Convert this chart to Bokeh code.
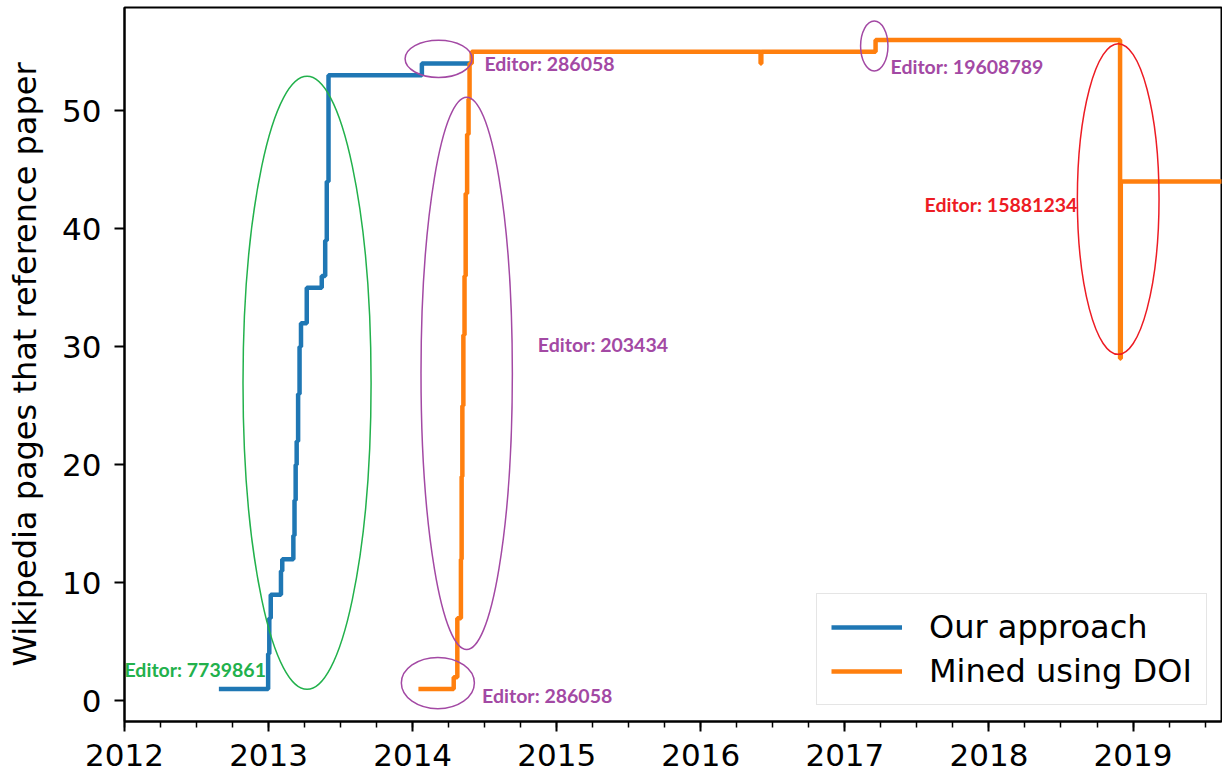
from bokeh.plotting import figure
from bokeh.models import (Range1d, FixedTicker, Legend, LegendItem, ColumnDataSource)
from bokeh.core.properties import value
from bokeh.embed import file_html
from bokeh.resources import INLINE

# ---- data (decimal years, number of pages) ----
our_x = [2012.655, 2012.997, 2013.005, 2013.015, 2013.086, 2013.095, 2013.172, 2013.180,
         2013.188, 2013.195, 2013.205, 2013.215, 2013.225, 2013.265, 2013.369, 2013.393,
         2013.404, 2013.416, 2014.064, 2014.400]
our_y = [1, 4, 7, 9, 11, 12, 14, 17, 20, 22, 26, 30, 32, 35, 36, 39, 44, 53, 54, 54]

doi_x = [2014.040, 2014.285, 2014.310, 2014.335, 2014.340, 2014.345, 2014.352, 2014.360,
         2014.368, 2014.378, 2014.388, 2014.395, 2014.410, 2016.415, 2016.420, 2017.213,
         2018.910, 2018.915, 2019.620]
doi_y = [1, 2, 7, 12, 19, 25, 31, 36, 43, 48, 51, 54, 55, 54, 55, 56, 29, 44, 44]

year_ticks = [2012, 2013, 2014, 2015, 2016, 2017, 2018, 2019]
year_labels = ["2012", "2013", "2014", "2015", "2016", "2017", "2018", "2019"]
quarter_ticks = [2012 + q / 4 for q in range(0, 31)]
y_ticks = [0, 10, 20, 30, 40, 50]

# annotation ellipses (center x, center y, width, height, colour)
ell_x = [2013.267, 2014.180, 2014.375, 2014.175, 2017.204, 2018.897]
ell_y = [26.95, 54.4, 27.75, 1.51, 55.49, 42.52]
ell_w = [0.889, 0.465, 0.634, 0.507, 0.19, 0.567]
ell_h = [51.97, 3.15, 46.8, 4.34, 4.25, 26.36]
ell_c = ["#22b14c", "#a349a4", "#a349a4", "#a349a4", "#a349a4", "#ed1c24"]

# annotation texts
ann_text = ["Editor: 7739861", "Editor: 286058", "Editor: 203434", "Editor: 286058",
            "Editor: 19608789", "Editor: 15881234"]
ann_x = [2012.0, 2014.498, 2014.869, 2014.482, 2017.317, 2017.553]
ann_y = [2.62, 54.0, 30.2, 0.49, 53.74, 42.03]
ann_c = ["#22b14c", "#a349a4", "#a349a4", "#a349a4", "#a349a4", "#ed1c24"]

BLUE = "#1f77b4"
ORANGE = "#ff7f0e"

p = figure(width=1222, height=771, output_backend="svg", toolbar_location=None,
           x_range=Range1d(2012.0, 2019.614), y_range=Range1d(-1.75, 58.75),
           min_border_left=124, min_border_right=1, min_border_top=7, min_border_bottom=50)
p.background_fill_color = "white"
p.border_fill_color = "white"
p.outline_line_color = "black"
p.outline_line_width = 2
p.xgrid.visible = False
p.ygrid.visible = False

# axes
xa = p.xaxis[0]
xa.ticker = FixedTicker(ticks=year_ticks, minor_ticks=quarter_ticks)
xa.major_label_overrides = {t: l for t, l in zip(year_ticks, year_labels)}
xa.major_label_text_font = "DejaVu Sans"
xa.major_label_text_font_size = "31px"
xa.major_label_text_color = "black"
xa.major_tick_out = 10
xa.major_tick_in = 0
xa.minor_tick_out = 6
xa.minor_tick_in = 0
xa.major_tick_line_width = 2
xa.minor_tick_line_width = 1.5
xa.axis_line_width = 2
xa.major_label_standoff = 12

ya = p.yaxis[0]
ya.ticker = FixedTicker(ticks=y_ticks, minor_ticks=[])
ya.major_label_text_font = "DejaVu Sans"
ya.major_label_text_font_size = "31px"
ya.major_label_text_color = "black"
ya.major_tick_out = 10
ya.major_tick_in = 0
ya.minor_tick_out = 0
ya.minor_tick_in = 0
ya.major_tick_line_width = 2
ya.axis_line_width = 2
ya.major_label_standoff = 13
ya.axis_label = "Wikipedia pages that reference paper"
ya.axis_label_text_font = "DejaVu Sans"
ya.axis_label_text_font_size = "32px"
ya.axis_label_text_font_style = "normal"
ya.axis_label_text_color = "black"
ya.axis_label_standoff = 15

# series
r_our = p.step(our_x, our_y, mode="after", line_color=BLUE, line_width=4.5)
r_doi = p.step(doi_x, doi_y, mode="after", line_color=ORANGE, line_width=4.5)

# ellipses
esrc = ColumnDataSource(dict(x=ell_x, y=ell_y, w=ell_w, h=ell_h, c=ell_c))
p.ellipse(x="x", y="y", width="w", height="h", source=esrc, fill_alpha=0,
          line_color="c", line_width=1.5)

# texts
tsrc = ColumnDataSource(dict(x=ann_x, y=ann_y, t=ann_text, c=ann_c))
p.text(x="x", y="y", text="t", source=tsrc, text_color="c", text_font=value("Lato"),
       text_font_style="bold", text_font_size="19.5px", text_baseline="middle",
       text_align="left")

legend = Legend(items=[LegendItem(label="Our approach", renderers=[r_our]),
                       LegendItem(label="Mined using DOI", renderers=[r_doi])],
                location=(692, 16))
legend.label_text_font = "DejaVu Sans"
legend.label_text_font_size = "32px"
legend.label_text_color = "black"
legend.glyph_width = 71
legend.glyph_height = 36
legend.label_height = 36
legend.label_standoff = 27
legend.spacing = 6
legend.padding = 14
legend.border_line_color = "#cccccc"
legend.border_line_width = 1.5
legend.background_fill_alpha = 0.8
p.add_layout(legend)

open("out.html", "w").write(file_html(p, INLINE))
